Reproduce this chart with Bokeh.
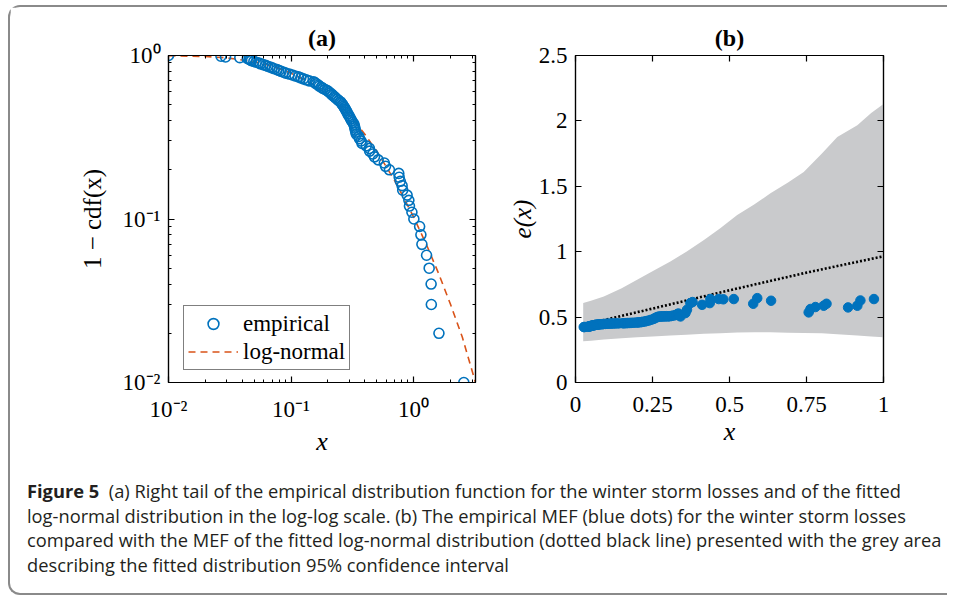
from bokeh.plotting import figure
from bokeh.models import (Range1d, LinearAxis, LogAxis, FixedTicker, Legend, LegendItem,
                          Div, CustomJSTickFormatter)
from bokeh.layouts import row, column
from bokeh.embed import file_html
from bokeh.resources import INLINE

# ---------------- data ----------------
# panel (a): sorted losses (largest tail probability first) and empirical 1-cdf
loss = [0.0100, 0.0268, 0.0292, 0.0382, 0.0440, 0.0455, 0.0465, 0.0475, 0.0497, 0.0519,
        0.0548, 0.0563, 0.0590, 0.0621, 0.0642, 0.0675, 0.0702, 0.0728, 0.0770, 0.0795,
        0.0830, 0.0872, 0.0905, 0.0968, 0.1025, 0.1080, 0.1148, 0.1201, 0.1262, 0.1330,
        0.1405, 0.1530, 0.1572, 0.1610, 0.1668, 0.1702, 0.1765, 0.1820, 0.1893, 0.1975,
        0.2030, 0.2081, 0.2142, 0.2188, 0.2255, 0.2310, 0.2382, 0.2451, 0.2535, 0.2580,
        0.2634, 0.2677, 0.2730, 0.2772, 0.2818, 0.2862, 0.2905, 0.2960, 0.3012, 0.3064,
        0.3120, 0.3185, 0.3260, 0.3290, 0.3318, 0.3345, 0.3375, 0.3410, 0.3570, 0.3620,
        0.3730, 0.3800, 0.4110, 0.4360, 0.4380, 0.4650, 0.4800, 0.5140, 0.5770, 0.5900,
        0.6350, 0.7570, 0.7630, 0.7790, 0.8060, 0.8150, 0.8850, 0.9150, 0.9250, 0.9690,
        1.0050, 1.1200, 1.1470, 1.1690, 1.2760, 1.3400, 1.3900, 1.3950, 1.6100, 2.5700]
tail_prob = [1.00, 0.99, 0.98, 0.97, 0.96, 0.95, 0.94, 0.93, 0.92, 0.91,
             0.90, 0.89, 0.88, 0.87, 0.86, 0.85, 0.84, 0.83, 0.82, 0.81,
             0.80, 0.79, 0.78, 0.77, 0.76, 0.75, 0.74, 0.73, 0.72, 0.71,
             0.70, 0.69, 0.68, 0.67, 0.66, 0.65, 0.64, 0.63, 0.62, 0.61,
             0.60, 0.59, 0.58, 0.57, 0.56, 0.55, 0.54, 0.53, 0.52, 0.51,
             0.50, 0.49, 0.48, 0.47, 0.46, 0.45, 0.44, 0.43, 0.42, 0.41,
             0.40, 0.39, 0.38, 0.37, 0.36, 0.35, 0.34, 0.33, 0.32, 0.31,
             0.30, 0.29, 0.28, 0.27, 0.26, 0.25, 0.24, 0.23, 0.22, 0.21,
             0.20, 0.19, 0.18, 0.17, 0.16, 0.15, 0.14, 0.13, 0.12, 0.11,
             0.10, 0.09, 0.08, 0.07, 0.06, 0.05, 0.04, 0.03, 0.02, 0.01]

# fitted log-normal tail
fit_x = [0.01, 0.02, 0.03, 0.05, 0.07, 0.10, 0.15, 0.20, 0.30, 0.40, 0.50, 0.70,
         1.00, 1.30, 1.60, 2.00, 2.50, 3.20]
fit_tail = [0.9975, 0.986, 0.967, 0.917, 0.862, 0.780, 0.670, 0.575, 0.430, 0.330,
            0.260, 0.172, 0.103, 0.0672, 0.0464, 0.0301, 0.0189, 0.0100]

# panel (b): empirical mean excess function at the thresholds
mef_x = [0.0268, 0.0292, 0.0382, 0.0440, 0.0455, 0.0465, 0.0475, 0.0497, 0.0519,
         0.0548, 0.0563, 0.0590, 0.0621, 0.0642, 0.0675, 0.0702, 0.0728, 0.0770, 0.0795,
         0.0830, 0.0872, 0.0905, 0.0968, 0.1025, 0.1080, 0.1148, 0.1201, 0.1262, 0.1330,
         0.1405, 0.1530, 0.1572, 0.1610, 0.1668, 0.1702, 0.1765, 0.1820, 0.1893, 0.1975,
         0.2030, 0.2081, 0.2142, 0.2188, 0.2255, 0.2310, 0.2382, 0.2451, 0.2535, 0.2580,
         0.2634, 0.2677, 0.2730, 0.2772, 0.2818, 0.2862, 0.2905, 0.2960, 0.3012, 0.3064,
         0.3120, 0.3185, 0.3260, 0.3290, 0.3318, 0.3345, 0.3375, 0.3410, 0.3570, 0.3620,
         0.3730, 0.3800, 0.4110, 0.4360, 0.4380, 0.4650, 0.4800, 0.5140, 0.5770, 0.5900,
         0.6350, 0.7570, 0.7630, 0.7790, 0.8060, 0.8150, 0.8850, 0.9150, 0.9250, 0.9690]
mef_e = [0.424, 0.424, 0.426, 0.428, 0.429, 0.430, 0.431, 0.432, 0.434,
         0.435, 0.436, 0.437, 0.439, 0.440, 0.442, 0.442, 0.443, 0.444, 0.445,
         0.446, 0.446, 0.447, 0.448, 0.449, 0.450, 0.450, 0.451, 0.451, 0.452,
         0.452, 0.453, 0.453, 0.454, 0.454, 0.455, 0.455, 0.456, 0.457, 0.458,
         0.459, 0.460, 0.462, 0.464, 0.467, 0.470, 0.474, 0.479, 0.486, 0.492,
         0.498, 0.502, 0.505, 0.504, 0.505, 0.506, 0.505, 0.507, 0.505, 0.507,
         0.509, 0.512, 0.516, 0.520, 0.524, 0.527, 0.512, 0.505, 0.531, 0.556,
         0.607, 0.615, 0.594, 0.607, 0.638, 0.638, 0.636, 0.638, 0.602, 0.645,
         0.625, 0.536, 0.562, 0.577, 0.587, 0.602, 0.574, 0.587, 0.627, 0.638]

# fitted MEF (dotted line)
fit_mef_x = [0.025, 0.25, 0.50, 0.75, 1.00]
fit_mef_e = [0.440, 0.565, 0.705, 0.840, 0.965]

# 95% confidence band of the fitted MEF
band_x = [0.025, 0.050, 0.092, 0.150, 0.200, 0.250, 0.308, 0.360, 0.417, 0.470,
          0.525, 0.580, 0.633, 0.690, 0.741, 0.800, 0.850, 0.915, 0.960, 1.000]
band_hi = [0.607, 0.625, 0.658, 0.720, 0.785, 0.850, 0.925, 1.000, 1.090, 1.180,
           1.280, 1.360, 1.446, 1.530, 1.610, 1.750, 1.877, 1.966, 2.060, 2.130]
band_lo = [0.315, 0.320, 0.328, 0.338, 0.345, 0.352, 0.360, 0.366, 0.372, 0.377,
           0.382, 0.384, 0.384, 0.381, 0.379, 0.376, 0.368, 0.360, 0.352, 0.345]

a_major = [0.01, 0.1, 1.0]
a_x_minor = [0.02, 0.03, 0.04, 0.05, 0.06, 0.07, 0.08, 0.09,
             0.2, 0.3, 0.4, 0.5, 0.6, 0.7, 0.8, 0.9, 2.0, 3.0]
a_y_minor = [0.02, 0.03, 0.04, 0.05, 0.06, 0.07, 0.08, 0.09,
             0.2, 0.3, 0.4, 0.5, 0.6, 0.7, 0.8, 0.9]
b_x_ticks = [0, 0.25, 0.5, 0.75, 1]
b_y_ticks = [0, 0.5, 1, 1.5, 2, 2.5]

caption_html = (
    '<b>Figure 5</b>&nbsp;&nbsp;(a) Right tail of the empirical distribution function for the '
    'winter storm losses and of the fitted<br>'
    'log-normal distribution in the log-log scale. (b) The empirical MEF (blue dots) for the '
    'winter storm losses<br>'
    'compared with the MEF of the fitted log-normal distribution (dotted black line) presented '
    'with the grey area<br>'
    'describing the fitted distribution 95% confidence interval'
)

# ---------------- styles ----------------
SERIF = "Liberation Serif"
BLUE = "#0072BD"
ORANGE = "#D95319"
GREY = "#c9cacc"
TICK_FS = "23px"

pow_fmt = CustomJSTickFormatter(code="""
const e = Math.round(Math.log10(tick));
if (e == -2) { return "10\u207b\u00b2"; }
if (e == -1) { return "10\u207b\u00b9"; }
if (e == 0) { return "10\u2070"; }
return "10\u00b9";
""")


def style_axis(ax, show_labels=True, minor=True, standoff=10):
    ax.axis_line_color = "black"
    ax.axis_line_width = 1.2
    ax.major_tick_in = 6
    ax.major_tick_out = 0
    ax.major_tick_line_color = "black"
    ax.major_tick_line_width = 1.2
    if minor:
        ax.minor_tick_in = 3
        ax.minor_tick_out = 0
        ax.minor_tick_line_color = "black"
        ax.minor_tick_line_width = 1
    else:
        ax.minor_tick_line_color = None
    ax.major_label_text_font = SERIF
    ax.major_label_text_color = "black"
    if show_labels:
        ax.major_label_text_font_size = TICK_FS
        ax.major_label_standoff = standoff
    else:
        ax.major_label_text_font_size = "6px"
        ax.major_label_text_color = None
        ax.major_label_standoff = 0
    ax.axis_label_text_font = SERIF
    ax.axis_label_text_color = "black"
    ax.axis_label_text_font_style = "normal"


# ---------------- panel (a) ----------------
pa = figure(width=493, height=451, x_axis_type="log", y_axis_type="log",
            x_range=Range1d(0.01, 3.2), y_range=Range1d(0.01, 1.0),
            output_backend="svg", toolbar_location=None, title="(a)",
            min_border_left=158, min_border_right=28, min_border_top=48, min_border_bottom=72,
            outline_line_color="black", outline_line_width=1.2)
pa.grid.visible = False
pa.title.align = "center"
pa.title.text_font = SERIF
pa.title.text_font_size = "24px"
pa.title.text_font_style = "bold"
pa.title.text_color = "black"
pa.title.standoff = 9

xt = FixedTicker(ticks=a_major, minor_ticks=a_x_minor)
yt = FixedTicker(ticks=a_major, minor_ticks=a_y_minor)
for ax in pa.xaxis:
    ax.ticker = xt
    ax.formatter = pow_fmt
    style_axis(ax, standoff=14)
    ax.axis_label = "x"
    ax.axis_label_text_font_style = "italic"
    ax.axis_label_text_font_size = "26px"
    ax.axis_label_standoff = 2
for ax in pa.yaxis:
    ax.ticker = yt
    ax.formatter = pow_fmt
    style_axis(ax, standoff=8)
    ax.axis_label = "1 \u2212 cdf(x)"
    ax.axis_label_text_font_size = "25px"
    ax.axis_label_standoff = 14
top_a = LogAxis(ticker=xt, formatter=pow_fmt)
style_axis(top_a, show_labels=False)
right_a = LogAxis(ticker=yt, formatter=pow_fmt)
style_axis(right_a, show_labels=False)
pa.add_layout(top_a, "above")
pa.add_layout(right_a, "right")

r_fit = pa.line(fit_x, fit_tail, line_color=ORANGE, line_width=1.6, line_dash="7 5")
r_emp = pa.scatter(loss, tail_prob, marker="circle", size=10, fill_color=None,
                   line_color=BLUE, line_width=1.6)

legend = Legend(items=[LegendItem(label="empirical", renderers=[r_emp]),
                       LegendItem(label="log-normal", renderers=[r_fit])],
                location=(15, 12), label_text_font=SERIF, label_text_font_size="23px",
                label_text_color="black", glyph_width=50, glyph_height=27, label_height=27,
                padding=4, spacing=1, margin=0, label_standoff=5,
                border_line_color="black", border_line_width=1, background_fill_alpha=1)
pa.add_layout(legend)

# ---------------- panel (b) ----------------
pb = figure(width=410, height=451, x_range=Range1d(0, 1), y_range=Range1d(0, 2.5),
            output_backend="svg", toolbar_location=None, title="(b)",
            min_border_left=72, min_border_right=30, min_border_top=48, min_border_bottom=72,
            outline_line_color="black", outline_line_width=1.2)
pb.grid.visible = False
pb.title.align = "center"
pb.title.text_font = SERIF
pb.title.text_font_size = "24px"
pb.title.text_font_style = "bold"
pb.title.text_color = "black"
pb.title.standoff = 9

bxt = FixedTicker(ticks=b_x_ticks)
byt = FixedTicker(ticks=b_y_ticks)
for ax in pb.xaxis:
    ax.ticker = bxt
    style_axis(ax, minor=False, standoff=14)
    ax.axis_label = "x"
    ax.axis_label_text_font_style = "italic"
    ax.axis_label_text_font_size = "26px"
    ax.axis_label_standoff = 2
for ax in pb.yaxis:
    ax.ticker = byt
    style_axis(ax, minor=False, standoff=8)
    ax.axis_label = "e(x)"
    ax.axis_label_text_font_style = "italic"
    ax.axis_label_text_font_size = "25px"
    ax.axis_label_standoff = 0
top_b = LinearAxis(ticker=bxt)
style_axis(top_b, show_labels=False, minor=False)
right_b = LinearAxis(ticker=byt)
style_axis(right_b, show_labels=False, minor=False)
pb.add_layout(top_b, "above")
pb.add_layout(right_b, "right")

pb.varea(x=band_x, y1=band_lo, y2=band_hi, fill_color=GREY, fill_alpha=1)
pb.line(fit_mef_x, fit_mef_e, line_color="black", line_width=2.6, line_dash="2 2")
pb.scatter(mef_x, mef_e, marker="circle", size=9.5, fill_color=BLUE, line_color=BLUE)

# ---------------- caption + frame ----------------
caption = Div(
    text=('<div style="font-family: \'Open Sans\', sans-serif; font-size: 18.3px; '
          'line-height: 24.7px; color: #231f20; white-space: nowrap;">' + caption_html + '</div>'),
    width=920, height=114, margin=(21, 0, 0, 17))

layout = column(row(pa, pb), caption, width=939,
                styles={"border-left": "2px solid #8a8a8a", "border-top": "2px solid #8a8a8a",
                        "border-bottom": "2px solid #8a8a8a", "border-top-left-radius": "12px",
                        "border-bottom-left-radius": "12px", "margin-top": "5px",
                        "margin-left": "8px", "background-color": "white"})

open("out.html", "w").write(file_html(layout, INLINE))
